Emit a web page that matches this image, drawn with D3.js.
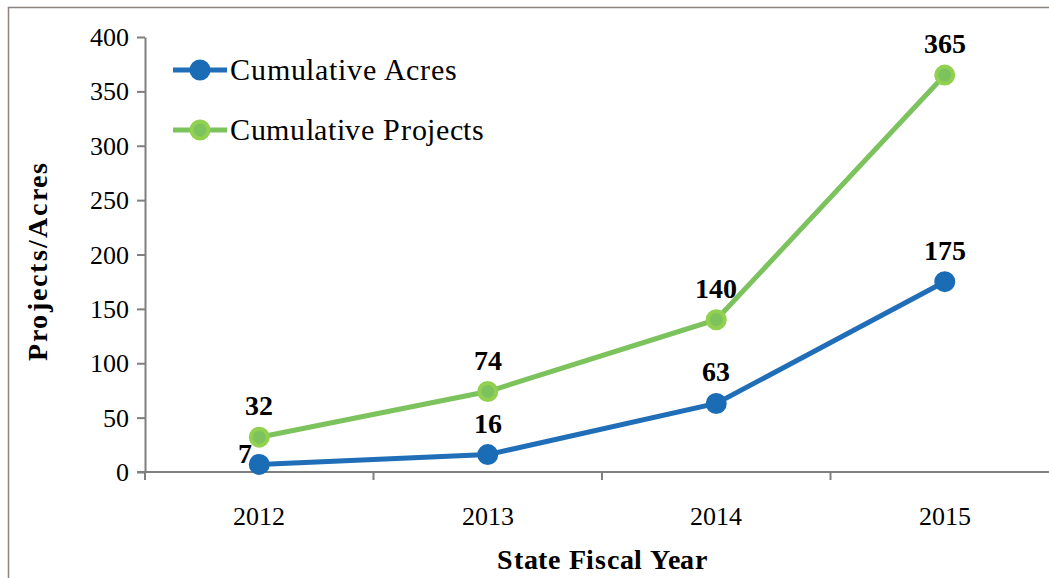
<!DOCTYPE html>
<html>
  <head>
    <meta charset="UTF-8" />
    <title>Cumulative Projects and Acres</title>
    <script src="https://d3js.org/d3.v7.min.js"></script>
    <style>
      @font-face {
        font-family: "ChartSerif";
        src: local("Liberation Serif"), local("LiberationSerif"), local("LiberationSerif-Regular");
        font-weight: 400;
      }
      @font-face {
        font-family: "ChartSerif";
        src: local("Liberation Serif Bold"), local("LiberationSerif-Bold");
        font-weight: 700;
      }
      body { margin: 0; background: #fff; }
    </style>
  </head>
  <body>
    <div id="chart"></div>
    <script>
      // data
      const years = ["2012", "2013", "2014", "2015"];
      const acres = [7, 16, 63, 175];
      const projects = [32, 74, 140, 365];
      const seriesNames = ["Cumulative Acres", "Cumulative Projects"];
      const yTicks = [0, 50, 100, 150, 200, 250, 300, 350, 400];

      const FONT = "ChartSerif, 'Liberation Serif', 'Noto Serif', 'DejaVu Serif', serif";
      const width = 1049, height = 578;
      const margin = { top: 37, left: 145, bottom: 106 };
      const plotH = height - margin.top - margin.bottom;

      function draw() {
        const svg = d3.select("#chart")
          .append("svg")
          .attr("width", width)
          .attr("height", height);

        // outer frame (right and bottom edges fall outside the picture)
        svg.append("rect")
          .attr("x", 8.5).attr("y", 7.5)
          .attr("width", width + 20).attr("height", height + 20)
          .attr("fill", "none")
          .attr("stroke", "#8c8481")
          .attr("stroke-width", 1.5);

        const x = d3.scaleBand()
          .domain(years)
          .range([margin.left, margin.left + 4 * 228.5]);

        const y = d3.scaleLinear()
          .domain([0, 400])
          .range([margin.top + plotH, margin.top]);

        const g = svg.append("g");

        // y axis
        const yAxis = g.append("g")
          .attr("transform", `translate(${margin.left},0)`)
          .call(d3.axisLeft(y).tickValues(yTicks).tickSize(8).tickPadding(8).tickSizeOuter(0));
        yAxis.attr("font-family", null).attr("font-size", null);
        yAxis.select(".domain").attr("stroke", "#7f7f7f").attr("stroke-width", 2);
        yAxis.selectAll(".tick line").attr("stroke", "#7f7f7f").attr("stroke-width", 2);
        yAxis.selectAll(".tick text")
          .style("font-family", FONT)
          .style("font-size", "26px")
          .attr("fill", "#000")
          .attr("dy", "0.33em");

        // x axis: ticks between categories
        const xAxisY = y(0);
        g.append("line")
          .attr("x1", margin.left - 8).attr("x2", width)
          .attr("y1", xAxisY).attr("y2", xAxisY)
          .attr("stroke", "#7f7f7f").attr("stroke-width", 2);
        const bounds = years.map(d => x(d)).concat([x(years[3]) + x.bandwidth()]);
        g.selectAll(".xtick")
          .data(bounds)
          .join("line")
          .attr("class", "xtick")
          .attr("x1", d => d).attr("x2", d => d)
          .attr("y1", xAxisY).attr("y2", xAxisY + 8)
          .attr("stroke", "#7f7f7f").attr("stroke-width", 2);
        g.selectAll(".xlabel")
          .data(years)
          .join("text")
          .attr("class", "xlabel")
          .attr("x", d => x(d) + x.bandwidth() / 2)
          .attr("y", xAxisY + 53)
          .attr("text-anchor", "middle")
          .style("font-family", FONT)
          .style("font-size", "26px")
          .text(d => d);

        // axis titles
        svg.append("text")
          .attr("x", 602).attr("y", 569)
          .attr("text-anchor", "middle")
          .style("font-family", FONT)
          .style("font-size", "28px")
          .style("font-weight", "bold")
          .attr("textLength", 210)
          .text("State Fiscal Year");

        svg.append("text")
          .attr("transform", "translate(47,262) rotate(-90)")
          .attr("text-anchor", "middle")
          .style("font-family", FONT)
          .style("font-size", "28px")
          .style("font-weight", "bold")
          .attr("textLength", 198)
          .text("Projects/Acres");

        const cx = d => x(d) + x.bandwidth() / 2;
        const line = d3.line().x(d => cx(d.year)).y(d => y(d.value));

        const series = [
          { name: seriesNames[0], values: acres, line: "#1f6eb7", fill: "#1a6cb5", stroke: "#1a6cb5" },
          { name: seriesNames[1], values: projects, line: "#7cc35e", fill: "#7cc35e", stroke: "#92d04f" }
        ];

        // draw projects first so acres sits on top, as in the reference
        series.slice().reverse().forEach(s => {
          const pts = years.map((yr, i) => ({ year: yr, value: s.values[i] }));
          const first = s === series[0];
          g.append("path")
            .datum(pts)
            .attr("fill", "none")
            .attr("stroke", s.line)
            .attr("stroke-width", 5)
            .attr("d", line);
          g.selectAll(null)
            .data(pts)
            .join("circle")
            .attr("cx", d => cx(d.year))
            .attr("cy", d => y(d.value))
            .attr("r", 8.5)
            .attr("fill", s.fill)
            .attr("stroke", s.stroke)
            .attr("stroke-width", 4);
          g.selectAll(null)
            .data(pts)
            .join("text")
            .attr("x", (d, i) => (first && i === 0) ? cx(d.year) - 7 : cx(d.year))
            .attr("y", (d, i) => (first && i === 0) ? y(d.value) - 1 : y(d.value) - 22)
            .attr("text-anchor", (d, i) => (first && i === 0) ? "end" : "middle")
            .style("font-family", FONT)
            .style("font-size", "28px")
            .style("font-weight", "bold")
            .text(d => d.value);
        });

        // legend
        const legend = svg.append("g");
        series.forEach((s, i) => {
          const ly = 70 + i * 60;
          legend.append("line")
            .attr("x1", 173).attr("x2", 227)
            .attr("y1", ly).attr("y2", ly)
            .attr("stroke", s.line).attr("stroke-width", 5);
          legend.append("circle")
            .attr("cx", 200).attr("cy", ly)
            .attr("r", 8.5)
            .attr("fill", s.fill)
            .attr("stroke", s.stroke)
            .attr("stroke-width", 4);
          legend.append("text")
            .attr("x", 230).attr("y", ly + 10)
            .style("font-family", FONT)
            .style("font-size", "30px")
            .attr("textLength", i === 0 ? 227 : 254)
            .text(s.name);
        });
      }

      // make sure the serif faces are in before drawing
      Promise.all([
        document.fonts.load("26px ChartSerif"),
        document.fonts.load("30px ChartSerif"),
        document.fonts.load("bold 28px ChartSerif")
      ]).catch(() => {}).then(draw);
    </script>
  </body>
</html>
